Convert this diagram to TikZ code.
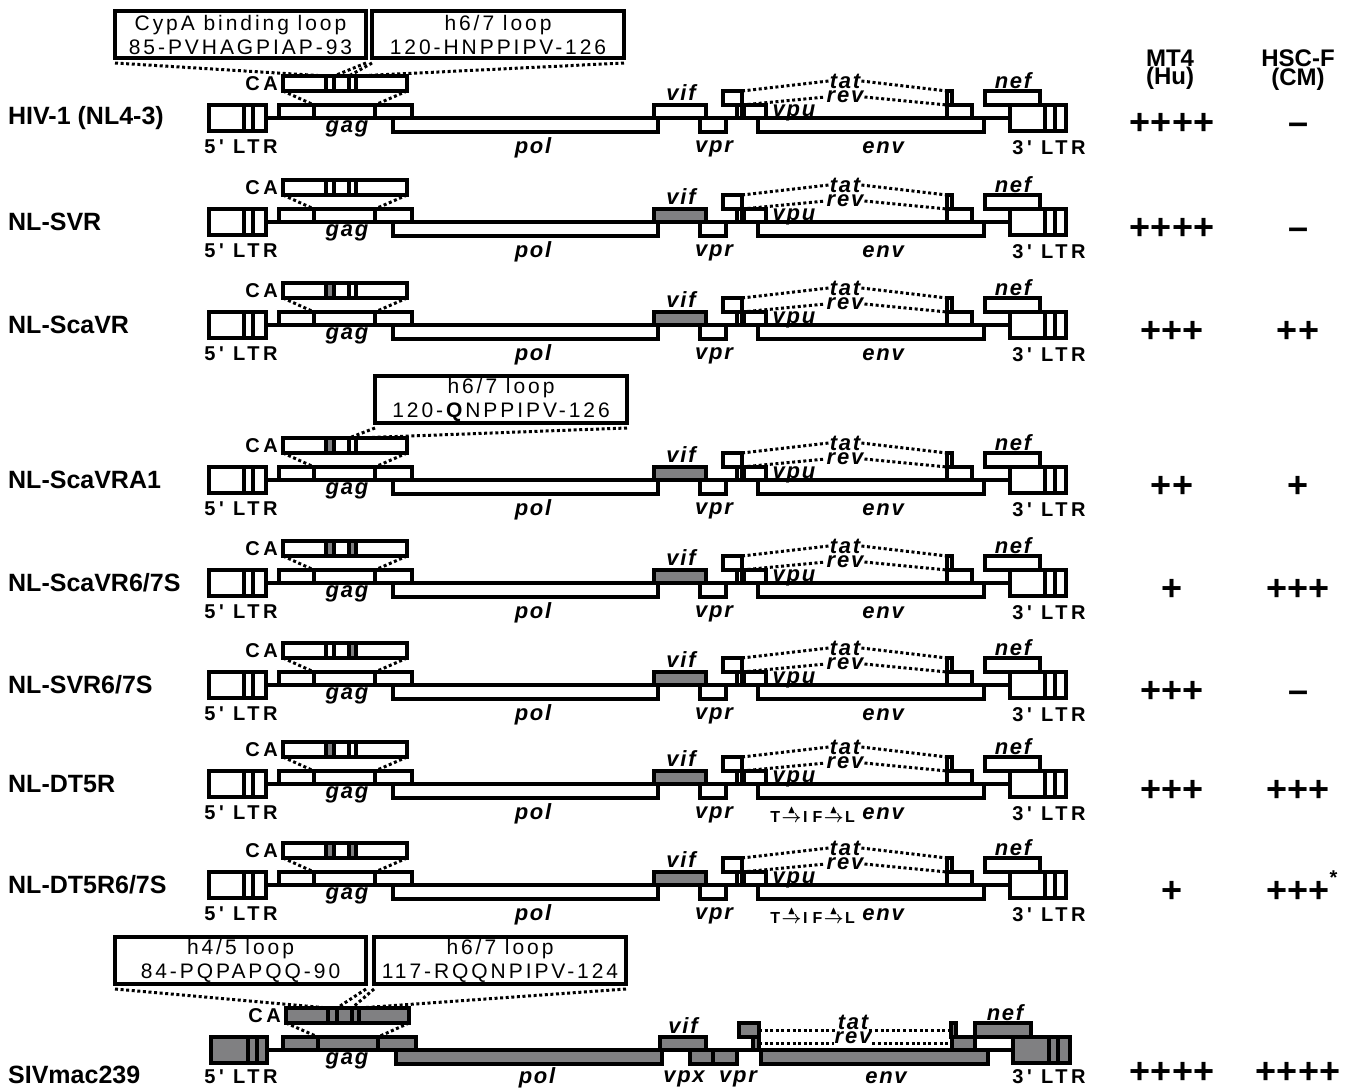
\documentclass[tikz,border=0pt]{standalone}
\usepackage{amsmath,amssymb}
\usepackage{fontspec}
\setmainfont{Liberation Sans}
\newfontfamily\genefont[LetterSpace=8]{Liberation Sans}
\newfontfamily\ltrfont[LetterSpace=18]{Liberation Sans}
\newfontfamily\loopfont[LetterSpace=14]{Liberation Sans}
\usetikzlibrary{positioning}
\definecolor{segfill}{RGB}{128,128,130}
\newcommand{\genebox}[6]{\node[gbox,fill=#6,minimum width={(#4)-(#2)},minimum height={(#5)-(#3)}] (#1) at (#2,#5) {};}
\newcommand{\mutto}{\hspace{1.5pt}$\overset{\raisebox{-1pt}{$\scriptstyle\blacktriangle$}}{\boldsymbol{\rightarrow}}$\hspace{1.5pt}}
% one HIV-1 based genome: id, baseline, name, vif fill, CA loop fills, MT4, HSC-F, env mutation
\newcommand{\hivrow}[9]{%
\begin{scope}[yshift=-#2pt]
\node[rowlab] (#1name) at (8,0) {#3};
\genebox{#1la}{209}{-13}{244}{13}{white}
\genebox{#1lb}{244}{-13}{253}{13}{white}
\genebox{#1lc}{253}{-13}{266}{13}{white}
\genebox{#1ga}{279}{-13}{314}{0}{white}
\genebox{#1gb}{314}{-13}{375}{0}{white}
\genebox{#1gc}{375}{-13}{412}{0}{white}
\genebox{#1pol}{393}{0}{658}{14}{white}
\genebox{#1vif}{654}{-13}{706}{0}{#4}
\genebox{#1vpr}{700}{0}{726}{14}{white}
\genebox{#1tata}{723}{-27}{742}{-13}{white}
\genebox{#1reva}{737}{-13}{742}{0}{white}
\genebox{#1vpu}{744}{-13}{766}{0}{white}
\genebox{#1env}{758}{0}{984}{14}{white}
\genebox{#1tatb}{947}{-27}{952}{-13}{white}
\genebox{#1revb}{947}{-13}{972}{0}{white}
\genebox{#1nef}{985}{-27}{1040}{-13}{white}
\genebox{#1ld}{1010}{-13}{1045}{13}{white}
\genebox{#1le}{1045}{-13}{1055}{13}{white}
\genebox{#1lf}{1055}{-13}{1066}{13}{white}
\draw[gline] (#1lc.east) -- (#1ld.west);
\genebox{#1ca}{283}{-42}{326}{-27}{white}
\genebox{#1cb}{326}{-42}{334}{-27}{#5}
\genebox{#1cc}{334}{-42}{349}{-27}{white}
\genebox{#1cd}{349}{-42}{356}{-27}{#6}
\genebox{#1ce}{356}{-42}{407}{-27}{white}
\draw[dots] (#1ca.south west) -- (#1gb.north west);
\draw[dots] (#1ce.south east) -- (#1gc.north west);
\node[ltrlab,left=4pt of #1ca] (#1tca) {CA};
\node[gname] (#1tgag) at (347,11) {gag};
\node[ltrlab] (#1tlfive) at (241,29) {5' LTR};
\node[gname] (#1tpol) at (533,30) {pol};
\node[gname] (#1tvif) at (681,-25) {vif};
\node[gname] (#1tvpr) at (714,31) {vpr};
\node[gname] (#1tvpu) at (794,-5) {vpu};
\node[gname] (#1ttat) at (845,-37) {tat};
\node[gname] (#1trev) at (845,-21) {rev};
\draw[dots] (#1tata.north east) -- (#1ttat.west);
\draw[dots] (#1ttat.east) -- (#1tatb.north west);
\draw[dots] (#1tata.south east) -- (#1trev.west);
\draw[dots] (#1trev.east) -- (#1revb.north west);
\node[gname,anchor=east] (#1tenv) at (905,30) {env};
\node[mutlab,left=6pt of #1tenv] (#1tmut) {#9};
\node[gname] (#1tnef) at (1013,-37) {nef};
\node[ltrlab] (#1tlthree) at (1049,30) {3' LTR};
\node[score] (#1mt) at (1172,17) {#7};
\node[score] (#1hs) at (1298,17) {#8};
\end{scope}}

\begin{document}
\begin{tikzpicture}[x=1pt,y=-1pt,
  gbox/.style={draw,line width=3.2pt,inner sep=0pt,outer sep=0pt,anchor=south west},
  gline/.style={line width=3.2pt},
  dots/.style={line width=3pt,dash pattern=on 3pt off 2.6pt},
  rowlab/.style={anchor=west,inner sep=0pt,font=\bfseries\fontsize{25}{30}\selectfont},
  gname/.style={inner sep=1pt,font=\genefont\bfseries\itshape\fontsize{22}{24}\selectfont},
  ltrlab/.style={inner sep=1pt,font=\ltrfont\bfseries\fontsize{20}{22}\selectfont},
  mutlab/.style={inner sep=0pt,font=\bfseries\fontsize{16}{18}\selectfont},
  loopbox/.style={draw,line width=3.2pt,anchor=south west,inner sep=0pt,outer sep=0pt,
    minimum height=47,align=center,font=\loopfont\fontsize{21}{24}\selectfont},
  score/.style={anchor=base,inner sep=0pt,font=\bfseries\fontsize{36}{36}\selectfont},
  head/.style={align=center,inner sep=0pt,font=\bfseries\fontsize{24}{17}\selectfont}]
\useasboundingbox (0,0) rectangle (1351,1089);
\node[head] (mtfour) at (1170,70) {MT4\\(Hu)};
\node[head] (hscf) at (1298,70) {HSC-F\\(CM)};

\hivrow{ra}{118}{HIV-1 (NL4-3)}{white}{white}{white}{++++}{--}{}
\hivrow{rb}{222}{NL-SVR}{segfill}{white}{white}{++++}{--}{}
\hivrow{rc}{325}{NL-ScaVR}{segfill}{segfill}{white}{+++}{++}{}
\hivrow{rd}{480}{NL-ScaVRA1}{segfill}{segfill}{white}{++}{+}{}
\hivrow{re}{583}{NL-ScaVR6/7S}{segfill}{segfill}{segfill}{+}{+++}{}
\hivrow{rf}{685}{NL-SVR6/7S}{segfill}{white}{segfill}{+++}{--}{}
\hivrow{rg}{784}{NL-DT5R}{segfill}{segfill}{white}{+++}{+++}{T\mutto I\hspace{5pt}F\mutto L}
\hivrow{rh}{885}{NL-DT5R6/7S}{segfill}{segfill}{segfill}{+}{+++\rlap{\raisebox{18pt}{\fontsize{20}{20}\selectfont *}}}{T\mutto I\hspace{5pt}F\mutto L}

\node[loopbox,minimum width=251] (cypa) at (115,58) {CypA binding loop\\85-PVHAGPIAP-93};
\node[loopbox,minimum width=252] (hsixa) at (372,58) {h6/7 loop\\120-HNPPIPV-126};
\draw[dots] ([yshift=-5pt]cypa.south west) -- (racb.north west);
\draw[dots] ([yshift=-5pt]cypa.south east) -- (racb.north east);
\draw[dots] ([yshift=-5pt]hsixa.south west) -- (racd.north west);
\draw[dots] ([yshift=-5pt]hsixa.south east) -- (racd.north east);
\node[loopbox,minimum width=252] (hsixb) at (375,423) {h6/7 loop\\120-\textbf{Q}NPPIPV-126};
\draw[dots] ([yshift=-5pt]hsixb.south west) -- (rdcd.north west);
\draw[dots] ([yshift=-5pt]hsixb.south east) -- (rdcd.north east);

\begin{scope}[yshift=-1050pt]
\node[rowlab] (sname) at (8,25) {SIVmac239};
\genebox{sla}{211}{-13}{248}{13}{segfill}
\genebox{slb}{248}{-13}{257}{13}{segfill}
\genebox{slc}{257}{-13}{267}{13}{segfill}
\genebox{sga}{283}{-13}{318}{0}{segfill}
\genebox{sgb}{318}{-13}{378}{0}{segfill}
\genebox{sgc}{378}{-13}{416}{0}{segfill}
\genebox{spol}{396}{0}{662}{14}{segfill}
\genebox{svif}{660}{-13}{706}{0}{segfill}
\genebox{svpx}{690}{0}{713}{14}{segfill}
\genebox{svpr}{713}{0}{737}{14}{segfill}
\genebox{stata}{739}{-27}{759}{-13}{segfill}
\genebox{sreva}{753}{-13}{759}{0}{segfill}
\genebox{senv}{761}{0}{988}{14}{segfill}
\genebox{statb}{951}{-27}{956}{-13}{segfill}
\genebox{srevb}{952}{-13}{975}{0}{segfill}
\genebox{snef}{975}{-27}{1031}{-13}{segfill}
\genebox{sld}{1013}{-13}{1049}{13}{segfill}
\genebox{sle}{1049}{-13}{1058}{13}{segfill}
\genebox{slf}{1058}{-13}{1070}{13}{segfill}
\draw[gline] (slc.east) -- (sld.west);
\genebox{sca}{286}{-42}{328}{-27}{segfill}
\genebox{scb}{328}{-42}{337}{-27}{segfill}
\genebox{scc}{337}{-42}{352}{-27}{segfill}
\genebox{scd}{352}{-42}{359}{-27}{segfill}
\genebox{sce}{359}{-42}{409}{-27}{segfill}
\draw[dots] (sca.south west) -- (sgb.north west);
\draw[dots] (sce.south east) -- (sgc.north west);
\node[ltrlab,left=4pt of sca] (stca) {CA};
\node[gname] (stgag) at (347,11) {gag};
\node[ltrlab] (stlfive) at (241,27) {5' LTR};
\node[gname] (stpol) at (537,28) {pol};
\node[gname] (stvif) at (683,-24) {vif};
\node[gname] (stvpx) at (684,29) {vpx};
\node[gname] (stvpr) at (738,29) {vpr};
\node[gname] (sttat) at (853,-28) {tat};
\node[gname] (strev) at (853,-12) {rev};
\draw[dots] (stata.east) -- (stata.east -| sttat.west);
\draw[dots] (sttat.east |- statb.west) -- (statb.west);
\draw[dots] (sreva.east) -- (sreva.east -| strev.west);
\draw[dots] (strev.east |- srevb.west) -- (srevb.west);
\node[gname] (stenv) at (886,28) {env};
\node[gname] (stnef) at (1005,-37) {nef};
\node[ltrlab] (stlthree) at (1049,27) {3' LTR};
\node[score] (smt) at (1172,33) {++++};
\node[score] (shs) at (1298,33) {++++};
\end{scope}
\node[loopbox,minimum width=251] (hfour) at (115,984) {h4/5 loop\\84-PQPAPQQ-90};
\node[loopbox,minimum width=252] (hsixc) at (374,984) {h6/7 loop\\117-RQQNPIPV-124};
\draw[dots] ([yshift=-5pt]hfour.south west) -- (scb.north west);
\draw[dots] ([yshift=-5pt]hfour.south east) -- (scb.north east);
\draw[dots] ([yshift=-5pt]hsixc.south west) -- (scd.north west);
\draw[dots] ([yshift=-5pt]hsixc.south east) -- (scd.north east);
\end{tikzpicture}
\end{document}
